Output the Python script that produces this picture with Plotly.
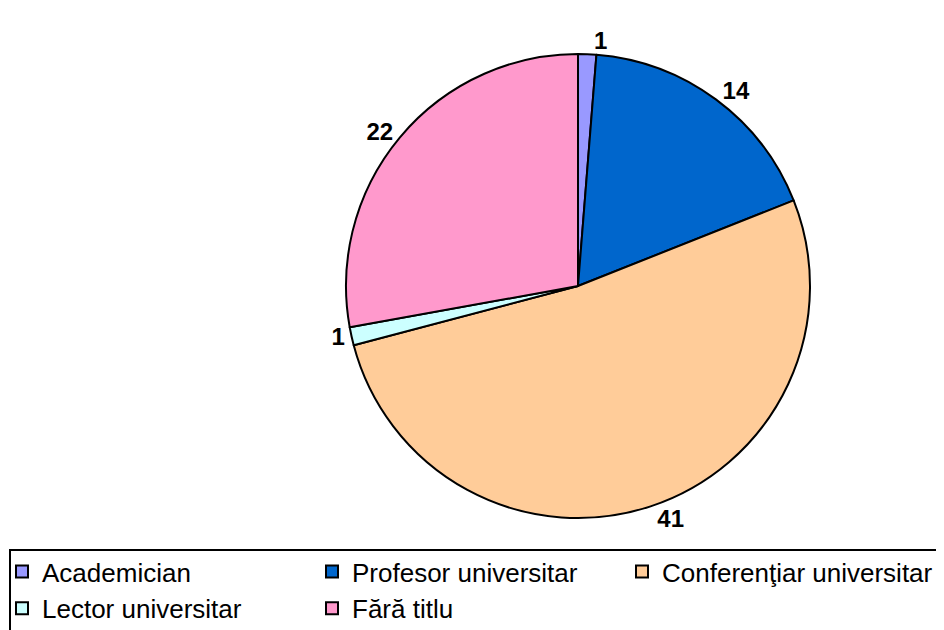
import plotly.graph_objects as go

categories = ["Academician", "Profesor universitar", "Conferenţiar universitar", "Lector universitar", "Fără titlu"]
values = [1, 14, 41, 1, 22]
colors = ["#9999FF", "#0066CC", "#FFCC99", "#CCFFFF", "#FF99CC"]

W, H = 944, 630
OFF = 8  # page body margin offset

fig = go.Figure(go.Pie(
    labels=categories,
    values=values,
    sort=False,
    direction="clockwise",
    rotation=0,
    marker=dict(colors=colors, line=dict(color="black", width=2)),
    textinfo="value",
    textposition="outside",
    textfont=dict(family="Liberation Sans, Arial", size=24, color="black", weight="bold"),
    domain=dict(x=[(346 - OFF) / W, (810 - OFF) / W],
                y=[(H - (518 - OFF)) / H, (H - (54 - OFF)) / H]),
    hoverinfo="label+value",
))

fig.add_shape(type="rect", xref="paper", yref="paper",
              x0=(10 - OFF) / W, x1=1.05, y0=-0.05, y1=(H - (550 - OFF)) / H,
              line=dict(color="black", width=2), fillcolor="rgba(0,0,0,0)", layer="above")

fig.update_layout(
    width=W, height=H,
    margin=dict(l=0, r=0, t=0, b=0, autoexpand=False),
    paper_bgcolor="white",
    plot_bgcolor="white",
    showlegend=True,
    legend=dict(
        orientation="h",
        x=0, y=(H - (548 - OFF)) / H,
        xanchor="left", yanchor="top",
        indentation=-6,
        font=dict(family="Liberation Sans, Arial", size=26, color="black"),
        bgcolor="rgba(0,0,0,0)",
        borderwidth=0,
        entrywidth=271, entrywidthmode="pixels",
        traceorder="normal",
    ),
)

fig.write_html("out.html")
